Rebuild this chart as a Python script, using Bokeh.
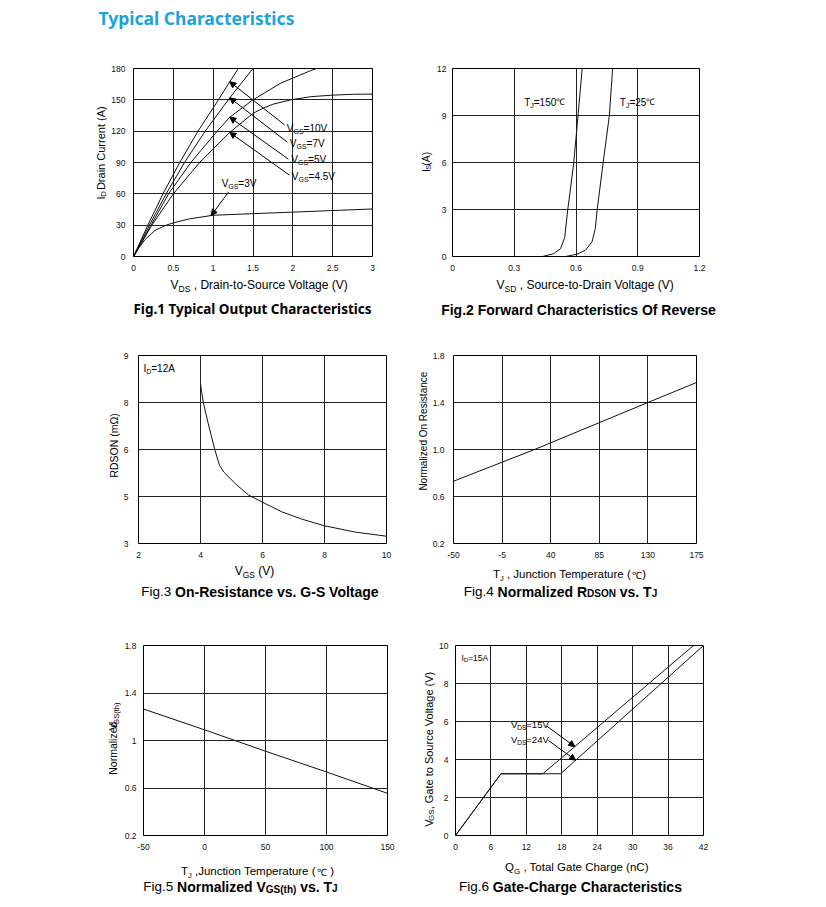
import numpy as np
from bokeh.plotting import figure
from bokeh.models import Label, Arrow, NormalHead, FixedTicker, Range1d
from bokeh.layouts import column, row
from bokeh.embed import file_html
from bokeh.resources import INLINE
from bokeh.core.validation import silence
from bokeh.core.validation.warnings import MISSING_RENDERERS

silence(MISSING_RENDERERS, True)

# ---------------- data ----------------
# Fig.1 Typical Output Characteristics : ID (A) vs VDS (V)
vds_10v = [0, 0.18, 0.37, 0.58, 0.81, 1.066, 1.208, 1.316, 1.45]
id_10v = [0, 30, 60, 90, 120, 150, 167.3, 180, 195]
vds_7v = [0, 0.2, 0.41, 0.64, 0.9, 1.208, 1.5, 1.6]
id_7v = [0, 30, 60, 90, 120, 151.9, 180, 189]
vds_5v = [0, 0.22, 0.44, 0.72, 1.05, 1.208, 1.5, 1.85, 2.225, 2.35]
id_5v = [0, 30, 60, 90, 120, 133.3, 150, 166, 178, 181.5]
vds_45v = [0, 0.23, 0.5, 0.83, 1.208, 1.5, 1.625, 1.75, 1.975, 2.225, 2.5, 2.75, 3.0]
id_45v = [0, 30, 60, 90, 118.8, 137, 142, 145.8, 150, 153, 154.5, 155.3, 155.5]
vds_3v = [0, 0.07, 0.14, 0.27, 0.41, 0.5, 0.7, 1.0, 1.5, 2.0, 2.5, 3.0]
id_3v = [0, 8.5, 15.8, 25, 30, 32.2, 36, 39.5, 41, 42.5, 44, 45.5]
fig1_xticks = [0, 0.5, 1, 1.5, 2, 2.5, 3]
fig1_xlabels = ["0", "0.5", "1", "1.5", "2", "2.5", "3"]
fig1_yticks = [0, 30, 60, 90, 120, 150, 180]
fig1_ylabels = ["0", "30", "60", "90", "120", "150", "180"]

# Fig.2 Forward characteristics of reverse diode : IS (A) vs VSD (V)
vsd_150 = [0.436, 0.49, 0.525, 0.545, 0.56, 0.575, 0.589, 0.61, 0.63]
is_150 = [0, 0.17, 0.5, 1.2, 3.0, 4.5, 6.0, 9.0, 12.0]
vsd_25 = [0.549, 0.606, 0.646, 0.678, 0.694, 0.703, 0.732, 0.762, 0.778]
is_25 = [0, 0.15, 0.4, 0.94, 1.8, 3.0, 6.0, 9.0, 12.0]
fig2_xticks = [0, 0.3, 0.6, 0.9, 1.2]
fig2_xlabels = ["0", "0.3", "0.6", "0.9", "1.2"]
fig2_yticks = [0, 3, 6, 9, 12]
fig2_ylabels = ["0", "3", "6", "9", "12"]

# Fig.3 On-resistance vs VGS (ID = 12 A); y axis labels 3,5,6,8,9 are evenly spaced
vgs_3 = [4.0, 4.09, 4.25, 4.46, 4.61, 4.75, 5.13, 5.55, 6.01, 6.62, 7.26, 7.98, 8.97, 10.0]
rds_3 = [8.39, 8.0, 7.1, 6.0, 5.67, 5.52, 5.27, 5.03, 4.75, 4.35, 4.04, 3.76, 3.49, 3.31]
fig3_xticks = [2, 4, 6, 8, 10]
fig3_xlabels = ["2", "4", "6", "8", "10"]
fig3_ylabel_values = [3, 5, 6, 8, 9]

# Fig.4 Normalized RDSON vs TJ
tj_4 = [-50, 25, 130, 175]
rn_4 = [0.73, 1.0, 1.4, 1.57]
fig4_xticks = [-50, -5, 40, 85, 130, 175]
fig4_xlabels = ["-50", "-5", "40", "85", "130", "175"]
fig4_yticks = [0.2, 0.6, 1.0, 1.4, 1.8]
fig4_ylabels = ["0.2", "0.6", "1.0", "1.4", "1.8"]

# Fig.5 Normalized VGS(th) vs TJ
tj_5 = [-50, 0, 25, 50, 100, 150]
vth_5 = [1.265, 1.09, 1.0, 0.91, 0.735, 0.555]
fig5_xticks = [-50, 0, 50, 100, 150]
fig5_xlabels = ["-50", "0", "50", "100", "150"]
fig5_yticks = [0.2, 0.6, 1.0, 1.4, 1.8]
fig5_ylabels = ["0.2", "0.6", "1", "1.4", "1.8"]

# Fig.6 Gate charge : VGS (V) vs QG (nC)
qg_15 = [0, 7.7, 14.8, 40.3]
vgs_15 = [0, 3.25, 3.25, 10]
qg_24 = [0, 7.7, 17.8, 42]
vgs_24 = [0, 3.25, 3.25, 10]
fig6_xticks = [0, 6, 12, 18, 24, 30, 36, 42]
fig6_xlabels = ["0", "6", "12", "18", "24", "30", "36", "42"]
fig6_yticks = [0, 2, 4, 6, 8, 10]
fig6_ylabels = ["0", "2", "4", "6", "8", "10"]

# ---------------- text helpers ----------------
FONT = "Liberation Sans"
AR = {' ': 278, '!': 278, '(': 333, ')': 333, ',': 278, '-': 333, '.': 278, '/': 278, '=': 584,
      'A': 667, 'B': 667, 'C': 722, 'D': 722, 'E': 667, 'F': 611, 'G': 778, 'H': 722, 'I': 278,
      'J': 500, 'K': 667, 'L': 556, 'M': 833, 'N': 722, 'O': 778, 'P': 667, 'Q': 778, 'R': 722,
      'S': 667, 'T': 611, 'U': 722, 'V': 667, 'W': 944, 'X': 667, 'Y': 667, 'Z': 611,
      'a': 556, 'b': 556, 'c': 500, 'd': 556, 'e': 556, 'f': 278, 'g': 556, 'h': 556, 'i': 222,
      'j': 222, 'k': 500, 'l': 222, 'm': 833, 'n': 556, 'o': 556, 'p': 556, 'q': 556, 'r': 333,
      's': 500, 't': 278, 'u': 556, 'v': 500, 'w': 722, 'x': 500, 'y': 500, 'z': 500,
      'Ω': 768, '℃': 1000}
ARB = {' ': 278, '(': 333, ')': 333, ',': 278, '-': 333, '.': 278, '=': 584,
       'A': 722, 'B': 722, 'C': 722, 'D': 722, 'E': 667, 'F': 611, 'G': 778, 'H': 722, 'I': 278,
       'J': 556, 'K': 722, 'L': 611, 'M': 833, 'N': 722, 'O': 778, 'P': 667, 'Q': 778, 'R': 722,
       'S': 667, 'T': 611, 'U': 722, 'V': 667, 'W': 944, 'X': 667, 'Y': 667, 'Z': 611,
       'a': 556, 'b': 611, 'c': 556, 'd': 611, 'e': 556, 'f': 333, 'g': 611, 'h': 611, 'i': 278,
       'j': 278, 'k': 556, 'l': 278, 'm': 889, 'n': 611, 'o': 611, 'p': 611, 'q': 611, 'r': 389,
       's': 556, 't': 333, 'u': 611, 'v': 556, 'w': 778, 'x': 556, 'y': 556, 'z': 500}


def tw(text, size, bold=False):
    table = ARB if bold else AR
    return sum(table.get(c, 556) for c in text) * size / 1000.0


def S(text, size, bold=False, dy=0.0, font=FONT, color="black"):
    return (text, size, bold, dy, font, color)


def mid_off(font, size):
    # distance from the alphabetic baseline to the middle of the line box
    return (0.39 if font == "Noto Sans" else 0.35) * size


def to_data(info, px, py):
    L, T, R, B, x0, x1, y0, y1 = info
    return x0 + (px - L) / (R - L) * (x1 - x0), y0 + (B - py) / (B - T) * (y1 - y0)


def _label(p, info, ax, ay, t, size, bold, font, color, align, ang):
    x, y = to_data(info, ax, ay)
    p.add_layout(Label(x=x, y=y, text=t, text_font=font, text_font_size=f"{size}px",
                       text_font_style="bold" if bold else "normal", text_color=color,
                       text_align=align, text_baseline="middle", angle=ang))


def put_text(p, info, px, py, segs, align="left", vertical=False):
    """(px, py): page position of the baseline start (or centre when align='center').
    Vertical text reads upward; px is then the baseline x."""
    if len(segs) == 1 and align == "center" and not vertical:
        t, size, bold, dy, font, color = segs[0]
        _label(p, info, px, py + dy - mid_off(font, size), t, size, bold, font, color, "center", 0.0)
        return
    widths = [tw(s[0], s[1], s[2]) for s in segs]
    total = sum(widths)
    acc = 0.0
    if not vertical:
        start = px - total / 2 if align == "center" else px
    else:
        start = py + total / 2 if align == "center" else py
    for (t, size, bold, dy, font, color), w in zip(segs, widths):
        stripped = t.lstrip(" ")
        lead = tw(" " * (len(t) - len(stripped)), size, bold)
        if not vertical:
            _label(p, info, start + acc + lead, py + dy - mid_off(font, size),
                   stripped, size, bold, font, color, "left", 0.0)
        else:
            _label(p, info, px + dy - mid_off(font, size), start - acc - lead,
                   stripped, size, bold, font, color, "left", np.pi / 2)
        acc += w


def arrow(p, info, tail_px, tip):
    xs, ys = to_data(info, *tail_px)
    p.add_layout(Arrow(end=NormalHead(size=6, line_color="black", fill_color="black", line_width=1),
                       x_start=xs, y_start=ys, x_end=tip[0], y_end=tip[1],
                       line_color="black", line_width=1))


def text_fig(px, py, w, h):
    f = figure(width=w, height=h, x_range=Range1d(0, w), y_range=Range1d(0, h),
               output_backend="svg", toolbar_location=None,
               x_axis_location=None, y_axis_location=None,
               min_border=0, min_border_left=0, min_border_right=0,
               min_border_top=0, min_border_bottom=0)
    f.grid.visible = False
    f.outline_line_color = None
    return f, (px, py, px + w, py + h, 0, w, 0, h)


def make_panel(fx, fy, fw, fh, mbl, mbr, mbt, mbb, xr, yr, xticks, xlabels, yticks, ylabels, ystand):
    p = figure(width=fw, height=fh, x_range=Range1d(*xr), y_range=Range1d(*yr),
               output_backend="svg", toolbar_location=None,
               min_border_left=mbl, min_border_right=mbr, min_border_top=mbt, min_border_bottom=mbb)
    p.outline_line_color = "black"
    p.outline_line_width = 1
    p.outline_line_alpha = 1
    for ax, ticks, labels in ((p.xaxis[0], xticks, xlabels), (p.yaxis[0], yticks, ylabels)):
        ax.ticker = FixedTicker(ticks=ticks)
        ax.major_label_overrides = dict(zip(ticks, labels))
        ax.axis_line_color = None
        ax.major_tick_line_color = None
        ax.minor_tick_line_color = None
        ax.major_tick_out = 0
        ax.major_tick_in = 0
        ax.minor_tick_out = 0
        ax.minor_tick_in = 0
        ax.major_label_text_font = FONT
        ax.major_label_text_font_size = "8.5px"
        ax.major_label_text_color = "#111111"
    p.xaxis.major_label_standoff = 8
    p.yaxis.major_label_standoff = ystand
    p.grid.grid_line_color = "#222222"
    p.grid.grid_line_alpha = 1
    p.grid.grid_line_width = 1
    info = (fx + mbl, fy + mbt, fx + fw - mbr, fy + fh - mbb, xr[0], xr[1], yr[0], yr[1])
    return p, info


LC = "#111111"

# ---------------- title strip ----------------
pt, it = text_fig(0, 0, 818, 40)
put_text(pt, it, 98, 24, [S("Typical Characteristics", 17.5, True, font="Noto Sans", color="#1ba3e0")])

# ================= ROW 1 (plots y 40..278, text 278..330) =================
yl1, iyl1 = text_fig(0, 40, 108, 238)
p1, i1 = make_panel(108, 40, 305, 238, 24, 41, 25, 19, (0, 3), (0, 180),
                    fig1_xticks, fig1_xlabels, fig1_yticks, fig1_ylabels, 8)
yr1, iyr1 = text_fig(413, 40, 21, 238)
p2, i2 = make_panel(434, 40, 384, 238, 17, 119, 28, 22, (0, 1.2), (0, 12),
                    fig2_xticks, fig2_xlabels, fig2_yticks, fig2_ylabels, 6)
tx1, itx1 = text_fig(0, 278, 818, 52)

for xs, ys in ((vds_10v, id_10v), (vds_7v, id_7v), (vds_5v, id_5v), (vds_45v, id_45v), (vds_3v, id_3v)):
    p1.line(xs, ys, line_color=LC, line_width=1)
tip_v = 1.208
arrow(p1, i1, (283.5, 123), (tip_v, float(np.interp(tip_v, vds_10v, id_10v))))
arrow(p1, i1, (286.5, 141), (tip_v, float(np.interp(tip_v, vds_7v, id_7v))))
arrow(p1, i1, (287.5, 158.5), (tip_v, float(np.interp(tip_v, vds_5v, id_5v))))
arrow(p1, i1, (288.5, 175), (tip_v, float(np.interp(tip_v, vds_45v, id_45v))))
arrow(p1, i1, (227.3, 192.7), (0.975, float(np.interp(0.975, vds_3v, id_3v))))
for lx, ly, v in ((286, 130, "=10V"), (289, 145.5, "=7V"), (290.5, 162, "=5V"),
                  (291, 180, "=4.5V"), (220.5, 187, "=3V")):
    put_text(p1, i1, lx, ly, [S("V", 10), S("GS", 7, dy=2), S(v, 10)])
put_text(yl1, iyl1, 104, 158, [S("I", 11), S("D", 8, dy=1.5), S(" Drain Current (A)", 11)],
         align="center", vertical=True)

p2.line(vsd_150, is_150, line_color=LC, line_width=1)
p2.line(vsd_25, is_25, line_color=LC, line_width=1)
put_text(p2, i2, 523, 105, [S("T", 10), S("J", 7, dy=2), S("=150", 10), S("℃", 9)])
put_text(p2, i2, 619, 105, [S("T", 10), S("J", 7, dy=2), S("=25", 10), S("℃", 9)])
put_text(yr1, iyr1, 429.5, 160, [S("I", 10.5), S("S", 7.5, dy=1.5), S("(A)", 10.5)],
         align="center", vertical=True)

put_text(tx1, itx1, 259, 289, [S("V", 12), S("DS", 8.5, dy=2.5), S(" , Drain-to-Source Voltage (V)", 12)],
         align="center")
put_text(tx1, itx1, 585, 289, [S("V", 12), S("SD", 8.5, dy=2.5), S(" , Source-to-Drain Voltage (V)", 12)],
         align="center")
put_text(tx1, itx1, 252, 314, [S("Fig.1 Typical Output Characteristics", 13.5, True, font="Noto Sans")],
         align="center")
put_text(tx1, itx1, 578, 314, [S("Fig.2 Forward Characteristics Of Reverse", 14, True)], align="center")

# ================= ROW 2 (plots y 330..563, text 563..620) =================
fig3_ypos = [3, 4.5, 6, 7.5, 9]  # evenly spaced positions of the printed labels 3,5,6,8,9
yl2, iyl2 = text_fig(0, 330, 120, 233)
p3, i3 = make_panel(120, 330, 293, 233, 16, 27, 25, 20, (2, 10), (3, 9),
                    fig3_xticks, fig3_xlabels, fig3_ypos, [str(v) for v in fig3_ylabel_values], 10)
yr2, iyr2 = text_fig(413, 330, 16, 233)
p4, i4 = make_panel(429, 330, 389, 233, 22, 122, 21, 19, (-50, 175), (0.2, 1.8),
                    fig4_xticks, fig4_xlabels, fig4_yticks, fig4_ylabels, 9)
tx2, itx2 = text_fig(0, 563, 818, 57)

p3.line(vgs_3, np.interp(rds_3, fig3_ylabel_values, fig3_ypos), line_color=LC, line_width=1)
put_text(p3, i3, 141, 371, [S("I", 10), S("D", 7, dy=2), S("=12A", 10)])
put_text(yl2, iyl2, 117, 449, [S("RDSON (mΩ)", 10.5)], align="center", vertical=True)

p4.line(tj_4, rn_4, line_color=LC, line_width=1)
put_text(yr2, iyr2, 426.5, 438, [S("Normalized On Resistance", 10)], align="center", vertical=True)

put_text(tx2, itx2, 254, 575, [S("V", 12), S("GS", 8.5, dy=2.5), S(" (V)", 12)], align="center")
put_text(tx2, itx2, 569, 578, [S("T", 11.5), S("J", 7.5, dy=2.5), S(" , Junction Temperature (", 11.5),
                               S("℃", 10), S(")", 11.5)], align="center")
put_text(tx2, itx2, 260, 596, [S("Fig.3 ", 13.5), S("On-Resistance vs. G-S Voltage", 14, True)], align="center")
put_text(tx2, itx2, 560, 596, [S("Fig.4 ", 13.5), S("Normalized R", 14, True), S("DSON", 10, True),
                               S(" vs. T", 14, True), S("J", 10, True)], align="center")

# ================= ROW 3 (plots y 620..859, text 859..899) =================
yl3, iyl3 = text_fig(0, 620, 121, 239)
p5, i5 = make_panel(121, 620, 292, 239, 19, 26, 25, 24, (-50, 150), (0.2, 1.8),
                    fig5_xticks, fig5_xlabels, fig5_yticks, fig5_ylabels, 7)
yr3, iyr3 = text_fig(413, 620, 23, 239)
p6, i6 = make_panel(436, 620, 382, 239, 17, 115, 21, 20, (0, 42), (0, 10),
                    fig6_xticks, fig6_xlabels, fig6_yticks, fig6_ylabels, 7)
tx3, itx3 = text_fig(0, 859, 818, 40)

p5.line(tj_5, vth_5, line_color=LC, line_width=1)
put_text(yl3, iyl3, 116.5, 740, [S("Normalized ", 10.5), S("V", 10.5), S("GS(th)", 7.5, dy=2)],
         align="center", vertical=True)

p6.line(qg_15, vgs_15, line_color=LC, line_width=1)
p6.line(qg_24, vgs_24, line_color=LC, line_width=1)
arrow(p6, i6, (545, 725), (20.2, float(np.interp(20.2, qg_15, vgs_15))))
arrow(p6, i6, (546.7, 740), (20.35, float(np.interp(20.35, qg_24, vgs_24))))
put_text(p6, i6, 459, 656.5, [S("I", 8.5), S("D", 6, dy=2), S("=15A", 8.5)])
put_text(p6, i6, 509, 726.5, [S("V", 9.5), S("DS", 6.5, dy=2), S("=15V", 9.5)])
put_text(p6, i6, 509, 742.5, [S("V", 9.5), S("DS", 6.5, dy=2), S("=24V", 9.5)])
put_text(yr3, iyr3, 432.5, 768, [S("V", 11), S("GS", 8, dy=1.5), S(" , Gate to Source Voltage (V)", 11)],
         align="center", vertical=True)

put_text(tx3, itx3, 257, 875, [S("T", 11.5), S("J", 7.5, dy=2.5), S(" ,Junction Temperature (", 11.5),
                               S("℃", 10), S(" )", 11.5)], align="center")
put_text(tx3, itx3, 577, 871, [S("Q", 11.5), S("G", 8, dy=2.5), S(" , Total Gate Charge (nC)", 11.5)],
         align="center")
put_text(tx3, itx3, 240, 891, [S("Fig.5 ", 13.5), S("Normalized V", 14, True), S("GS(th)", 10, True, dy=1),
                               S(" vs. T", 14, True), S("J", 10, True)], align="center")
put_text(tx3, itx3, 570, 891, [S("Fig.6 ", 13.5), S("Gate-Charge Characteristics", 14, True)], align="center")

layout = column(pt,
                row(yl1, p1, yr1, p2), tx1,
                row(yl2, p3, yr2, p4), tx2,
                row(yl3, p5, yr3, p6), tx3)
open("out.html", "w").write(file_html(layout, INLINE, title="Typical Characteristics"))
